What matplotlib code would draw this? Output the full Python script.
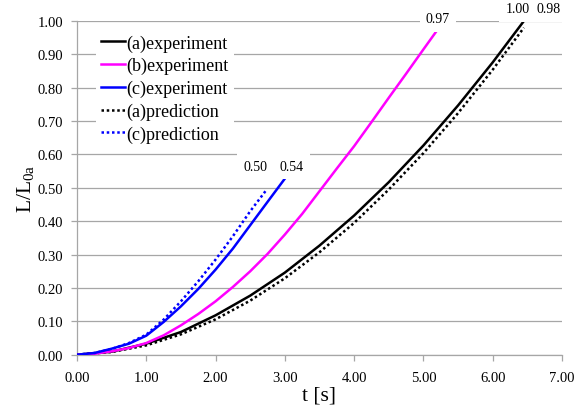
import matplotlib
matplotlib.use("Agg")
import matplotlib.pyplot as plt

# values
t_a = [0, 0.5, 1.0, 1.5, 2.0, 2.5, 3.0, 3.5, 4.0, 4.5, 5.0, 5.5, 6.0, 6.45]
L_a_exp = [0, 0.009, 0.033, 0.068, 0.118, 0.177, 0.246, 0.327, 0.417, 0.517, 0.627, 0.747, 0.876, 1.00]
L_a_pred = [0, 0.008, 0.028, 0.061, 0.106, 0.162, 0.229, 0.307, 0.395, 0.495, 0.604, 0.724, 0.854, 0.98]

t_b = [0, 0.25, 0.5, 0.75, 1.0, 1.25, 1.5, 1.75, 2.0, 2.25, 2.5, 2.75, 3.0, 3.25,
       3.5, 3.75, 4.0, 4.25, 4.5, 4.75, 5.0, 5.19]
L_b_exp = [0, 0.003, 0.010, 0.020, 0.035, 0.058, 0.088, 0.122, 0.160, 0.203, 0.250, 0.302,
           0.360, 0.422, 0.490, 0.558, 0.625, 0.697, 0.770, 0.842, 0.915, 0.97]

t_c = [0, 0.25, 0.5, 0.75, 1.0, 1.25, 1.5, 1.75, 2.0, 2.25, 2.5, 2.75, 3.03]
L_c_exp = [0, 0.005, 0.018, 0.033, 0.057, 0.098, 0.145, 0.197, 0.255, 0.318, 0.388, 0.458, 0.536]

t_cp = [0, 0.25, 0.5, 0.75, 1.0, 1.25, 1.5, 1.75, 2.0, 2.25, 2.5, 2.72]
L_c_pred = [0, 0.005, 0.017, 0.035, 0.060, 0.105, 0.160, 0.220, 0.285, 0.355, 0.430, 0.49]

# end-point data labels: (text, t, L)
end_labels = [("0.50", 2.57, 0.565), ("0.54", 3.10, 0.565), ("0.97", 5.21, 1.006),
              ("1.00", 6.36, 1.036), ("0.98", 6.80, 1.036)]

plt.rcParams.update({"font.family": "serif",
                     "font.serif": ["Liberation Serif", "DejaVu Serif"],
                     "mathtext.fontset": "custom",
                     "mathtext.rm": "Liberation Serif",
                     "mathtext.it": "Liberation Serif:italic",
                     "font.size": 10.5})

GRID = "#a6a6a6"
fig = plt.figure(figsize=(5.74, 4.14), dpi=100)
ax = fig.add_axes([77 / 574, 1 - 355.7 / 414, 485 / 574, 333.7 / 414])

ax.plot(t_a, L_a_exp, color="black", lw=1.8, label="(a)experiment", zorder=4)
ax.plot(t_b, L_b_exp, color="#ff00ff", lw=1.8, label="(b)experiment", zorder=4)
ax.plot(t_c, L_c_exp, color="#0000ff", lw=1.8, label="(c)experiment", zorder=4)
ax.plot(t_a, L_a_pred, color="black", lw=1.8, ls=(0, (1, 1.1)), label="(a)prediction", zorder=3)
ax.plot(t_cp, L_c_pred, color="#0000ff", lw=1.8, ls=(0, (1, 1.1)), label="(c)prediction", zorder=3)

for txt, x, y in end_labels:
    ax.text(x, y, txt, ha="center", va="center", fontsize=10, clip_on=False, zorder=5,
            bbox=dict(boxstyle="square,pad=0.45", fc="white", ec="none"))

ax.set_xlim(0, 7)
ax.set_ylim(0, 1)
ax.set_xticks(range(8))
ax.set_xticklabels([f"{v:.2f}" for v in range(8)])
ax.set_yticks([i / 10 for i in range(11)])
ax.set_yticklabels([f"{i / 10:.2f}" for i in range(11)])
ax.yaxis.grid(True, color=GRID, lw=0.9)
ax.set_axisbelow(True)
for sp in ("top", "right"):
    ax.spines[sp].set_visible(False)
for sp in ("left", "bottom"):
    ax.spines[sp].set_color(GRID)
    ax.spines[sp].set_linewidth(0.9)
ax.tick_params(axis="both", color=GRID, length=4, width=0.9, direction="out")
ax.tick_params(axis="y", pad=6)
ax.tick_params(axis="x", pad=8)

ax.set_xlabel("t [s]", fontsize=15.5, labelpad=1)
ax.set_ylabel(r"L/L$_{\mathrm{0a}}$", fontsize=15.5, labelpad=1)

leg = ax.legend(loc="upper left", bbox_to_anchor=(0.02, 1.003), fontsize=13,
                handlelength=1.3, handletextpad=0.1, labelspacing=0.3,
                frameon=True, fancybox=False, borderpad=0.3)
leg.get_frame().set_facecolor("white")
leg.get_frame().set_edgecolor("none")
leg.get_frame().set_alpha(1)

fig.savefig("out.png", dpi=100)
